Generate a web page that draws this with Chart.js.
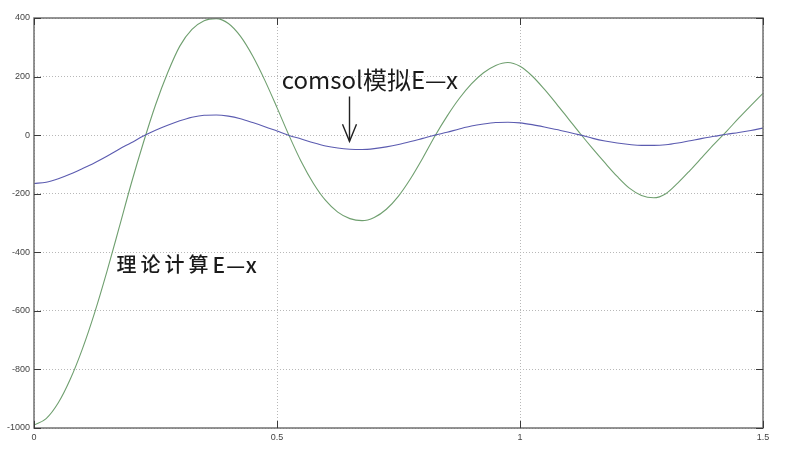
<!DOCTYPE html>
<html>
<head>
<meta charset="utf-8">
<script src="https://cdn.jsdelivr.net/npm/chart.js@4"></script>
<style>
html,body{margin:0;padding:0;background:#fff;}
#wrap{width:801px;height:462px;position:relative;}
</style>
</head>
<body>
<div id="wrap"><canvas id="c"></canvas></div>
<script>
// x positions (shared by both series)
const xValues = [0,0.025,0.05,0.075,0.1,0.125,0.15,0.175,0.2,0.225,
  0.25,0.275,0.3,0.325,0.35,0.375,0.4,0.425,0.45,0.475,
  0.5,0.525,0.55,0.575,0.6,0.625,0.65,0.675,0.7,0.725,
  0.75,0.775,0.8,0.825,0.85,0.875,0.9,0.925,0.95,0.975,
  1.0,1.025,1.05,1.075,1.1,1.125,1.15,1.175,1.2,1.225,
  1.25,1.275,1.3,1.325,1.35,1.375,1.4,1.425,1.45,1.475,1.5];
// 理论计算 E—x (green)
const theoryE = [-990,-968,-914,-832,-728,-605,-466,-317,-166,-26,
  103,213,304,361,391,398,381,337,270,187,
  94,-2,-91,-165,-223,-263,-285,-292,-281,-253,
  -208,-148,-78,-3,65,125,175,213,238,248,
  235,202,157,107,55,3,-47,-95,-141,-181,
  -206,-214,-200,-163,-120,-75,-30,13,58,101,143];
// comsol 模拟 E—x (blue)
const comsolE = [-165,-161,-149,-133,-114,-94,-72,-48,-26,-3,
  17,34,49,61,68,69,65,56,43,29,
  14,-1,-13,-26,-37,-44,-48,-49,-46,-40,
  -32,-22,-11,0,10,21,31,38,43,44,
  42,36,28,19,10,0,-11,-20,-27,-32,
  -35,-35,-33,-27,-19,-11,-4,3,9,16,24];
const xTickValues = [0,0.5,1,1.5];
const yTickValues = [-1000,-800,-600,-400,-200,0,200,400];
const labelComsol = 'comsol模拟E—x';
const labelTheoryCn = '理论计算';
const labelTheoryEx = 'E—x';

const toPts = ys => ys.map((v,i)=>({x:xValues[i], y:v}));

const decor = {
  id:'decor',
  afterDraw(chart, args, opts){
    const {ctx, chartArea:a, scales:{x,y}} = chart;
    ctx.save();
    // box
    ctx.strokeStyle='#707070'; ctx.lineWidth=1.5;
    ctx.strokeRect(a.left, a.top, a.right-a.left, a.bottom-a.top);
    // inward ticks
    ctx.strokeStyle='#3a3a3a'; ctx.lineWidth=1;
    const L=7;
    const seg=(x1,y1,x2,y2)=>{ctx.beginPath();ctx.moveTo(x1,y1);ctx.lineTo(x2,y2);ctx.stroke();};
    xTickValues.forEach(v=>{const p=Math.round(x.getPixelForValue(v))+0.5; seg(p,a.bottom,p,a.bottom-L); seg(p,a.top,p,a.top+L);});
    yTickValues.forEach(v=>{const p=Math.round(y.getPixelForValue(v))+0.5; seg(a.left,p,a.left+L,p); seg(a.right,p,a.right-L,p);});
    // annotations
    ctx.fillStyle='#1a1a1a';
    ctx.textBaseline='middle';
    ctx.textAlign='left';
    const c = opts.comsol;
    ctx.font='24px "Noto Sans CJK SC", "Noto Sans", sans-serif';
    ctx.letterSpacing='0px';
    ctx.fillText(labelComsol, x.getPixelForValue(c.x), y.getPixelForValue(c.y));
    // arrow
    const ax = Math.round(x.getPixelForValue(opts.arrow.x))+0.5;
    const ay1 = y.getPixelForValue(opts.arrow.y1), ay2 = y.getPixelForValue(opts.arrow.y2);
    ctx.strokeStyle='#222'; ctx.lineWidth=1.4;
    seg(ax, ay1, ax, ay2);
    ctx.beginPath(); ctx.moveTo(ax-7, ay2-17); ctx.lineTo(ax, ay2); ctx.lineTo(ax+7, ay2-17); ctx.stroke();
    const t = opts.theory;
    const tx = x.getPixelForValue(t.x), ty = y.getPixelForValue(t.y);
    ctx.font='500 20px "Noto Sans CJK SC", "Noto Sans", sans-serif';
    ctx.letterSpacing='4px';
    ctx.fillText(labelTheoryCn, tx, ty);
    const w = ctx.measureText(labelTheoryCn).width;
    ctx.font='500 21px "Noto Sans CJK SC", "Noto Sans", sans-serif';
    ctx.letterSpacing='1px';
    ctx.fillText(labelTheoryEx, tx + w, ty);
    ctx.restore();
  }
};

new Chart(document.getElementById('c'), {
  type:'line',
  data:{
    datasets:[
      {label:'comsol', data:toPts(comsolE), borderColor:'#5b5bb0', borderWidth:1.1, pointRadius:0, cubicInterpolationMode:'monotone', fill:false},
      {label:'theory', data:toPts(theoryE), borderColor:'#6f9f6f', borderWidth:1.1, pointRadius:0, cubicInterpolationMode:'monotone', fill:false}
    ]
  },
  plugins:[decor],
  options:{
    responsive:true, maintainAspectRatio:false, animation:false,
    layout:{padding:{top:18,right:38,left:0,bottom:0}},
    plugins:{
      legend:{display:false}, tooltip:{enabled:false},
      decor:{ comsol:{x:0.51,y:189}, arrow:{x:0.649,y1:132,y2:-21}, theory:{x:0.170,y:-442} }
    },
    scales:{
      x:{
        type:'linear', min:0, max:1.5,
        afterBuildTicks:s=>{s.ticks=xTickValues.map(v=>({value:v}));},
        afterFit:s=>{s.height=34;},
        border:{display:false, dash:[1,2]},
        grid:{color:'#b8b8b8', lineWidth:1, drawTicks:false},
        ticks:{color:'#444', font:{family:'"Liberation Sans", Arial, sans-serif', size:9}, padding:4, maxRotation:0,
          callback:v=>String(v)}
      },
      y:{
        min:-1000, max:400,
        afterBuildTicks:s=>{s.ticks=yTickValues.map(v=>({value:v}));},
        afterFit:s=>{s.width=34;},
        border:{display:false, dash:[1,2]},
        grid:{color:'#b8b8b8', lineWidth:1, drawTicks:false},
        ticks:{color:'#444', font:{family:'"Liberation Sans", Arial, sans-serif', size:9}, padding:4,
          callback:v=>String(v)}
      }
    }
  }
});
</script>
</body>
</html>
